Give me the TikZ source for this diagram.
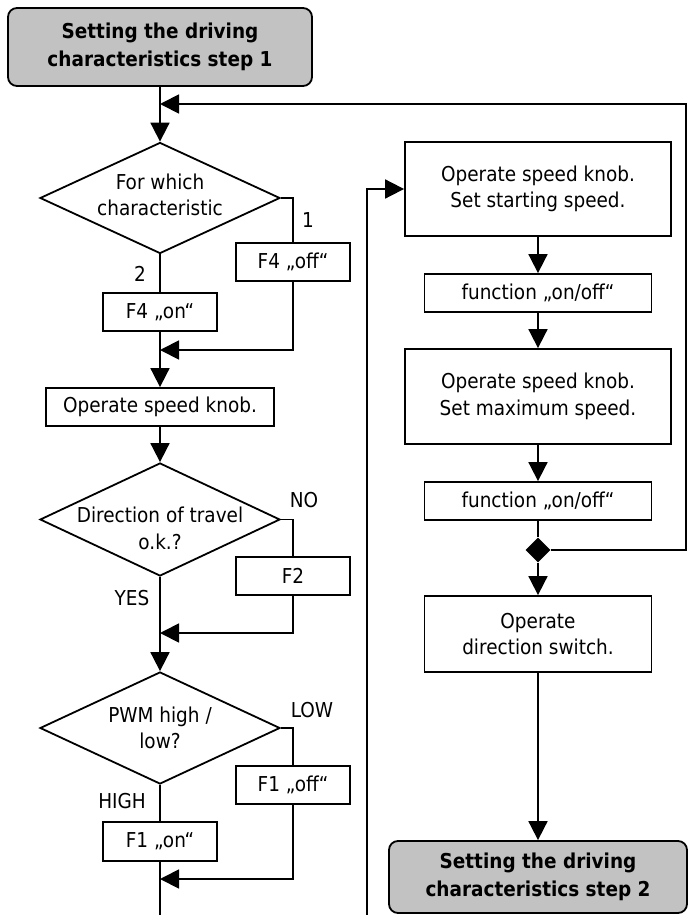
\documentclass[tikz,border=0pt]{standalone}
\usepackage{fontspec}
\setmainfont{DejaVu Sans}[FakeStretch=0.9]
\usetikzlibrary{shapes.geometric,arrows.meta}
\definecolor{termgray}{RGB}{194,194,194}
\tikzset{
  base/.style={draw, line width=1.8pt, inner sep=0pt, align=center},
  proc/.style={base, rectangle, fill=white},
  term/.style={base, rectangle, rounded corners=9pt, fill=termgray, font=\bfseries\fontsize{20.5}{28}\selectfont},
  dec/.style={base, diamond},
  conn/.style={line width=1.8pt},
  arr/.style={conn, -{Triangle[length=19pt,width=19pt]}},
  lbl/.style={inner sep=0pt},
  juncdot/.style={diamond, fill=black, draw=none, inner sep=0pt, minimum width=25pt, minimum height=25pt}
}
\begin{document}
\begin{tikzpicture}[x=1pt,y=-1pt,font=\fontsize{20.5}{26.5}\selectfont]
\useasboundingbox (0,0) rectangle (688,915);
% left column
\node[term, minimum width=304pt, minimum height=78pt] (top) at (160,47) {Setting the driving\\characteristics step 1};
\node[dec, minimum width=240pt, minimum height=111pt, label={[align=center,yshift=3pt]center:For which\\characteristic}] (d1) at (160,198) {};
\node[proc, minimum width=114pt, minimum height=38pt] (f4off) at (293,262) {F4 „off“};
\node[proc, minimum width=114pt, minimum height=38pt] (f4on) at (160,312) {F4 „on“};
\node[proc, minimum width=228pt, minimum height=38pt] (knob1) at (160,407) {Operate speed knob.};
\node[dec, minimum width=240pt, minimum height=113pt, label={[align=center,yshift=-9pt]center:Direction of travel\\o.k.?}] (d2) at (160,519.5) {};
\node[proc, minimum width=114pt, minimum height=38pt] (f2) at (293,576) {F2};
\node[dec, minimum width=240pt, minimum height=112pt, label={[align=center]center:PWM high /\\low?}] (d3) at (160,728) {};
\node[proc, minimum width=114pt, minimum height=38pt] (f1off) at (293,785) {F1 „off“};
\node[proc, minimum width=114pt, minimum height=39pt] (f1on) at (160,841.5) {F1 „on“};
% right column
\node[proc, minimum width=266pt, minimum height=94pt] (b1) at (538,189) {Operate speed knob.\\Set starting speed.};
\node[proc, minimum width=227pt, minimum height=38pt] (fn1) at (538,293) {function „on/off“};
\node[proc, minimum width=266pt, minimum height=95pt] (b3) at (538,396.5) {Operate speed knob.\\Set maximum speed.};
\node[proc, minimum width=227pt, minimum height=38pt] (fn2) at (538,501) {function „on/off“};
\node[juncdot] (junc) at (538,550) {};
\node[proc, minimum width=227pt, minimum height=76pt] (dir) at (538,634) {Operate\\direction switch.};
\node[term, minimum width=298pt, minimum height=72pt] (end) at (538,877) {Setting the driving\\characteristics step 2};
% branch labels
\node[lbl] (l1) at (308,220) {1};
\node[lbl] (l2) at (140,274) {2};
\node[lbl] (lno) at (304,500) {NO};
\node[lbl] (lyes) at (132,598) {YES};
\node[lbl] (llow) at (312,710) {LOW};
\node[lbl] (lhigh) at (122,801) {HIGH};
% merge points
\coordinate (m0) at (160,104);
\coordinate (m1) at (160,350);
\coordinate (m2) at (160,633);
\coordinate (m3) at (160,879);
\coordinate (botL) at (160,915);
\coordinate (botR) at (367,915);
\coordinate (rloop) at (686,550);
% connectors left
\draw[arr] (top.south) -- (d1.north);
\draw[conn] (d1.east) -| (f4off.north);
\draw[conn] (d1.south) -- (f4on.north);
\draw[arr] (f4off.south) |- (m1);
\draw[arr] (f4on.south) -- (knob1.north);
\draw[arr] (knob1.south) -- (d2.north);
\draw[conn] (d2.east) -| (f2.north);
\draw[arr] (d2.south) -- (d3.north);
\draw[arr] (f2.south) |- (m2);
\draw[conn] (d3.east) -| (f1off.north);
\draw[conn] (d3.south) -- (f1on.north);
\draw[arr] (f1off.south) |- (m3);
\draw[conn] (f1on.south) -- (botL);
% connectors right
\draw[arr] (botR) |- (b1.west);
\draw[arr] (b1.south) -- (fn1.north);
\draw[arr] (fn1.south) -- (b3.north);
\draw[arr] (b3.south) -- (fn2.north);
\draw[conn] (fn2.south) -- (junc.north);
\draw[arr] (junc.south) -- (dir.north);
\draw[arr] (dir.south) -- (end.north);
\draw[arr] (junc.east) -- (rloop) |- (m0);
\end{tikzpicture}
\end{document}
